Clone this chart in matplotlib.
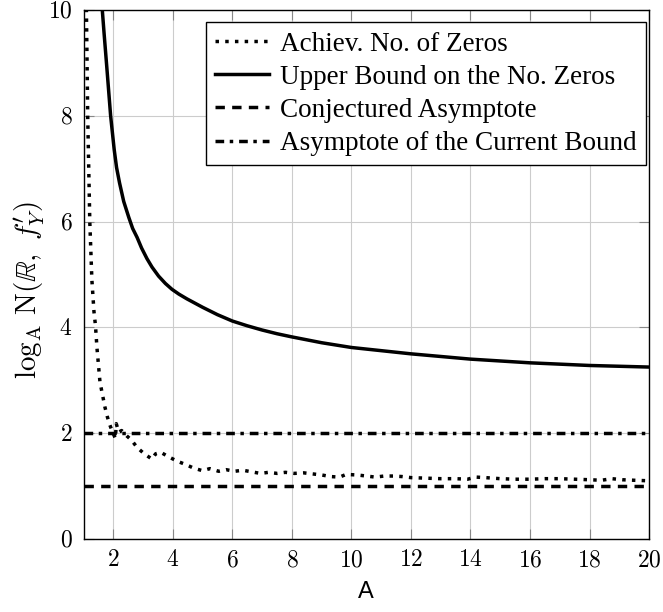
import matplotlib
matplotlib.use('Agg')
import matplotlib.pyplot as plt
from matplotlib.ticker import FuncFormatter, MultipleLocator

# values
ach_A = [1.09, 1.14, 1.21, 1.28, 1.35, 1.40, 1.45, 1.50, 1.55, 1.60, 1.66, 1.72, 1.80,
         1.88, 1.97, 2.07, 2.10, 2.18, 2.28, 2.45, 2.61, 2.80, 3.04, 3.30, 3.42, 3.59,
         3.87, 4.15, 4.42, 4.70, 5.00, 5.24, 5.54, 5.79, 6.08, 6.35, 6.64, 6.94, 7.22,
         7.50, 7.78, 8.08, 8.40, 8.70, 9.00, 9.30, 9.60, 9.82, 10.2, 10.5, 10.8, 11.1,
         11.4, 11.7, 12.0, 12.5, 13.0, 13.5, 13.9, 14.18, 14.5, 15.0, 15.5, 16.0, 16.5,
         17.0, 17.5, 18.0, 18.4, 18.75, 19.1, 19.5, 20.0]
ach_N = [10.3, 8.0, 6.0, 4.9, 4.3, 4.04, 3.62, 3.30, 2.98, 2.83, 2.66, 2.49, 2.31,
         2.16, 2.03, 1.90, 2.18, 2.02, 2.05, 1.95, 1.87, 1.73, 1.61, 1.51, 1.61, 1.64,
         1.55, 1.47, 1.41, 1.34, 1.29, 1.33, 1.28, 1.31, 1.28, 1.30, 1.27, 1.24, 1.26,
         1.24, 1.26, 1.24, 1.25, 1.23, 1.21, 1.18, 1.17, 1.22, 1.21, 1.19, 1.17, 1.19,
         1.19, 1.18, 1.16, 1.15, 1.14, 1.14, 1.13, 1.17, 1.16, 1.14, 1.13, 1.13, 1.14,
         1.14, 1.13, 1.12, 1.11, 1.14, 1.12, 1.11, 1.10]

ub_A = [1.61, 1.63, 1.69, 1.78, 1.84, 1.91, 2.03, 2.11, 2.21, 2.35, 2.52, 2.65, 2.80,
        2.95, 3.13, 3.30, 3.52, 3.75, 3.97, 4.20, 4.47, 5.0, 5.5, 6.0, 6.5, 7.0, 7.5,
        8.0, 9.0, 10.0, 11.0, 12.0, 13.0, 14.0, 15.0, 16.0, 17.0, 18.0, 19.0, 20.0]
ub_N = [10.15, 10.0, 9.56, 8.93, 8.50, 8.0, 7.36, 7.02, 6.73, 6.38, 6.08, 5.87, 5.70,
        5.50, 5.30, 5.14, 4.97, 4.83, 4.72, 4.63, 4.54, 4.38, 4.24, 4.12, 4.03, 3.95,
        3.88, 3.82, 3.71, 3.62, 3.56, 3.50, 3.45, 3.40, 3.365, 3.33, 3.305, 3.28, 3.265,
        3.25]

asym_A = [1, 20]
conj_asym = [1, 1]
curr_asym = [2, 2]

labels = ['Achiev. No. of Zeros', 'Upper Bound on the No. Zeros',
          'Conjectured Asymptote', 'Asymptote of the Current Bound']

plt.rcParams['mathtext.fontset'] = 'cm'
plt.rcParams['font.family'] = ['Liberation Serif', 'DejaVu Serif']

fig = plt.figure(figsize=(6.63, 6.12), dpi=100)
ax = fig.add_axes([0.126, 0.1193, 0.853, 0.8644])

lw = 2.5
ax.plot(ach_A, ach_N, color='black', lw=lw, linestyle=(0, (1, 1.8)), label=labels[0])
ax.plot(ub_A, ub_N, color='black', lw=lw, label=labels[1])
ax.plot(asym_A, conj_asym, color='black', lw=lw, linestyle=(0, (2.7, 2.1)), label=labels[2])
ax.plot(asym_A, curr_asym, color='black', lw=lw, linestyle=(0, (2.5, 1.6, 1, 1.7)), label=labels[3])

ax.set_xlim(1, 20)
ax.set_ylim(0, 10)
ax.xaxis.set_major_locator(MultipleLocator(2))
ax.yaxis.set_major_locator(MultipleLocator(2))
fmt = FuncFormatter(lambda v, p: f'${v:g}$')
ax.xaxis.set_major_formatter(fmt)
ax.yaxis.set_major_formatter(fmt)

ax.grid(True, color='#cccccc', lw=0.8)
ax.set_axisbelow(True)
ax.tick_params(direction='in', length=7.5, width=0.8, color='#888888',
               labelsize=17, top=True, right=True, pad=8)
for s in ax.spines.values():
    s.set_linewidth(1.0)
    s.set_color('black')

ax.set_xlabel('A', fontsize=17, family='Liberation Sans', labelpad=7)
ax.set_ylabel(r'$\log_{\mathrm{A}}\,\mathrm{N}(\mathbb{R},\ f^{\prime}_{Y})$', fontsize=21)
ax.yaxis.set_label_coords(-0.064, 0.47)

leg = ax.legend(loc='upper right', bbox_to_anchor=(0.995, 0.977), borderaxespad=0,
                fontsize=19.5, frameon=True, fancybox=False, framealpha=1,
                edgecolor='black', handlelength=2.0, handletextpad=0.4,
                labelspacing=0.3, borderpad=0.35)
leg.get_frame().set_linewidth(1.0)

fig.savefig('out.png', dpi=100)
